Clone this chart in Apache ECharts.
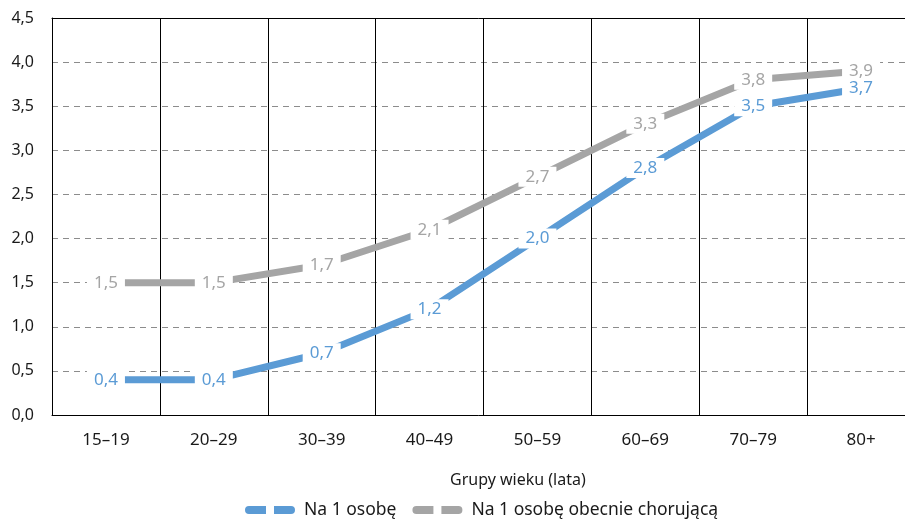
<!DOCTYPE html>
<html>
<head>
<meta charset="utf-8">
<script src="https://cdn.jsdelivr.net/npm/echarts@6/dist/echarts.min.js"></script>
<style>
  html, body { margin: 0; padding: 0; background: #fff; }
  #chart { width: 905px; height: 519px; }
</style>
</head>
<body>
<div id="chart"></div>
<script>
// Age groups on the category axis
const categories = ['15–19', '20–29', '30–39', '40–49', '50–59', '60–69', '70–79', '80+'];
// Values per person
const perPerson = [0.4, 0.4, 0.7, 1.2, 2.0, 2.8, 3.5, 3.7];
// Values per currently ill person
const perIllPerson = [1.5, 1.5, 1.7, 2.1, 2.7, 3.3, 3.8, 3.9];
const seriesNames = ['Na 1 osobę', 'Na 1 osobę obecnie chorującą'];
const axisTitle = 'Grupy wieku (lata)';

const BLUE = '#5b9bd5';
const GRAY = '#a5a5a5';
const FONT = '"Noto Sans", "Open Sans", sans-serif';
const TEXT = '#1a1a1a';

const fmt = v => v.toFixed(1).replace('.', ',');

const chart = echarts.init(document.getElementById('chart'), null, { renderer: 'canvas' });

function lineSeries(name, data, color) {
  return {
    name: name,
    type: 'line',
    data: data,
    symbol: 'circle',
    symbolSize: 0,
    showSymbol: true,
    itemStyle: { color: color },
    lineStyle: { color: color, width: 7, cap: 'butt', join: 'round' },
    label: {
      show: true,
      position: 'inside',
      color: color,
      opacity: 1,
      fontFamily: FONT,
      fontSize: 17,
      backgroundColor: '#fff',
      padding: [2, 7, 1, 7],
      formatter: p => fmt(p.value)
    },
    labelLayout: { hideOverlap: false },
    emphasis: { disabled: true },
    z: 3
  };
}

const legendIcon = 'path://M4,0 H21 V8 H4 A4,4 0 0 1 4,0 Z M29,0 H46 A4,4 0 0 1 46,8 H29 Z';

chart.setOption({
  animation: false,
  backgroundColor: '#fff',
  title: {
    text: axisTitle,
    left: 445,
    top: 467,
    textStyle: { fontFamily: FONT, fontSize: 16, fontWeight: 'normal', color: TEXT }
  },
  legend: {
    data: seriesNames.map((n, i) => ({ name: n, icon: legendIcon, itemStyle: { color: i ? GRAY : BLUE, opacity: 1 } })),
    left: 240,
    top: 496,
    itemWidth: 50,
    itemHeight: 8,
    itemGap: 16,
    textStyle: { fontFamily: FONT, fontSize: 17.5, color: TEXT, padding: [0, 0, 0, 4] }
  },
  grid: { left: 52, top: 18, width: 863, height: 397, containLabel: false, outerBoundsMode: 'none' },
  xAxis: [
    {
      type: 'category',
      data: categories,
      boundaryGap: true,
      axisLine: { lineStyle: { color: '#000', width: 1 } },
      axisTick: { show: false },
      axisLabel: { fontFamily: FONT, fontSize: 17, color: TEXT, margin: 17 },
      splitLine: { show: true, lineStyle: { color: '#000', width: 1 } }
    },
    {
      type: 'category',
      position: 'top',
      data: categories,
      axisLine: { show: true, lineStyle: { color: '#000', width: 1 } },
      axisTick: { show: false },
      axisLabel: { show: false },
      splitLine: { show: false }
    }
  ],
  yAxis: {
    type: 'value',
    min: 0,
    max: 4.5,
    interval: 0.5,
    axisLine: { show: true, lineStyle: { color: '#000', width: 1 } },
    axisTick: { show: false },
    axisLabel: { fontFamily: FONT, fontSize: 16, color: TEXT, margin: 18, formatter: v => fmt(v) },
    splitLine: { show: true, lineStyle: { color: '#8c8c8c', width: 1, type: [6, 5] } }
  },
  series: [
    lineSeries(seriesNames[0], perPerson, BLUE),
    lineSeries(seriesNames[1], perIllPerson, GRAY)
  ]
});
</script>
</body>
</html>
